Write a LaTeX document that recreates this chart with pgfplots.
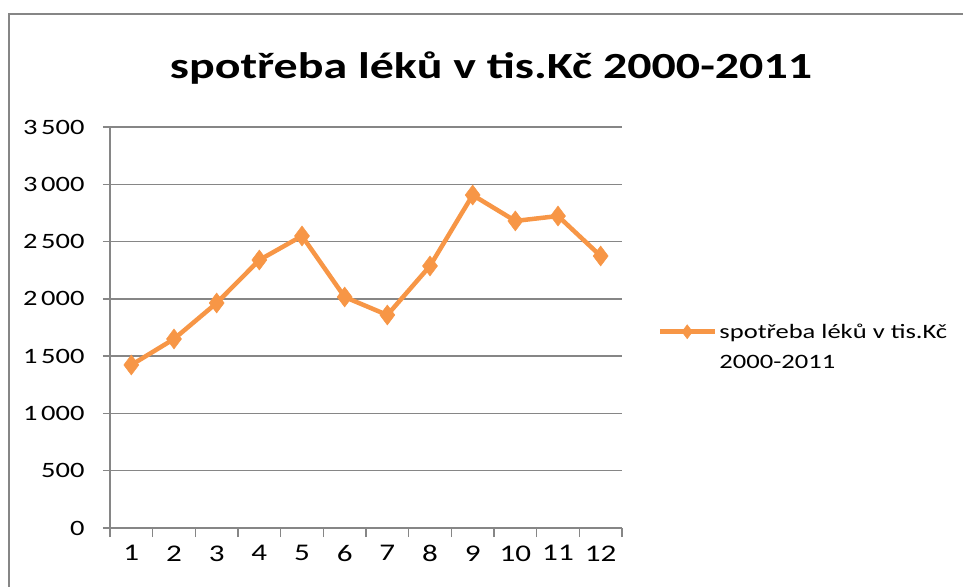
\documentclass[border=0pt]{standalone}
\usepackage{pgfplots}
\pgfplotsset{compat=1.18}
\usepackage{fontspec}
\setmainfont{Carlito}[FakeStretch=1.3]
\definecolor{lineor}{HTML}{F79646}
\definecolor{gridg}{HTML}{868686}
\begin{document}
\begin{tikzpicture}
\useasboundingbox (-110bp,-59bp) rectangle (853bp,528bp);
\draw[gridg, line width=2.5bp] (-101bp,-80bp) -- (-101bp,514bp) -- (880bp,514bp);
\begin{axis}[
  at={(0,0)}, anchor=south west,
  scale only axis, width=512bp, height=401bp,
  xmin=0.5, xmax=12.5, ymin=0, ymax=3500,
  axis x line*=bottom, axis y line*=left,
  axis line style={gridg, line width=1.5bp},
  xtick={1,...,12},
  xticklabels={1,2,3,4,5,6,7,8,9,10,11,12},
  minor xtick={0.5,1.5,...,12.5},
  ytick={0,500,...,3500},
  yticklabels={0,500,1\,000,1\,500,2\,000,2\,500,3\,000,3\,500},
  major x tick style={draw=none},
  minor tick length=9bp, major tick length=7bp,
  tick align=outside,
  every tick/.style={gridg, line width=1.5bp},
  minor x tick style={gridg, line width=1.5bp},
  ymajorgrids, grid style={gridg, line width=1.5bp},
  xticklabel style={font=\fontsize{24}{28}\selectfont, yshift=-7bp},
  yticklabel style={font=\fontsize{22}{26}\selectfont, xshift=-15bp},
  legend style={at={(1.064,0.452)}, anchor=west, draw=none, fill=none,
    font=\fontsize{20.5}{30}\selectfont, cells={align=left}},
  legend image code/.code={
    \draw[#1, mark size=7bp, mark repeat=2, mark phase=2] plot coordinates {(0bp,15bp) (27bp,15bp) (55bp,15bp)};
  },
  clip=false,
]
\addplot[lineor, line width=4.5bp, mark=diamond*, mark size=10bp,
  mark options={fill=lineor, draw=lineor, line width=0.5bp}]
  coordinates {(1,1423) (2,1650) (3,1964) (4,2339) (5,2549) (6,2016)
               (7,1859) (8,2287) (9,2906) (10,2680) (11,2723) (12,2374)};
\addlegendentry{spotřeba léků v tis.Kč\\2000-2011}
\end{axis}
\node[font=\bfseries\fontsize{37}{40}\selectfont] at (381bp,460bp) {spotřeba léků v tis.Kč 2000-2011};
\end{tikzpicture}
\end{document}
